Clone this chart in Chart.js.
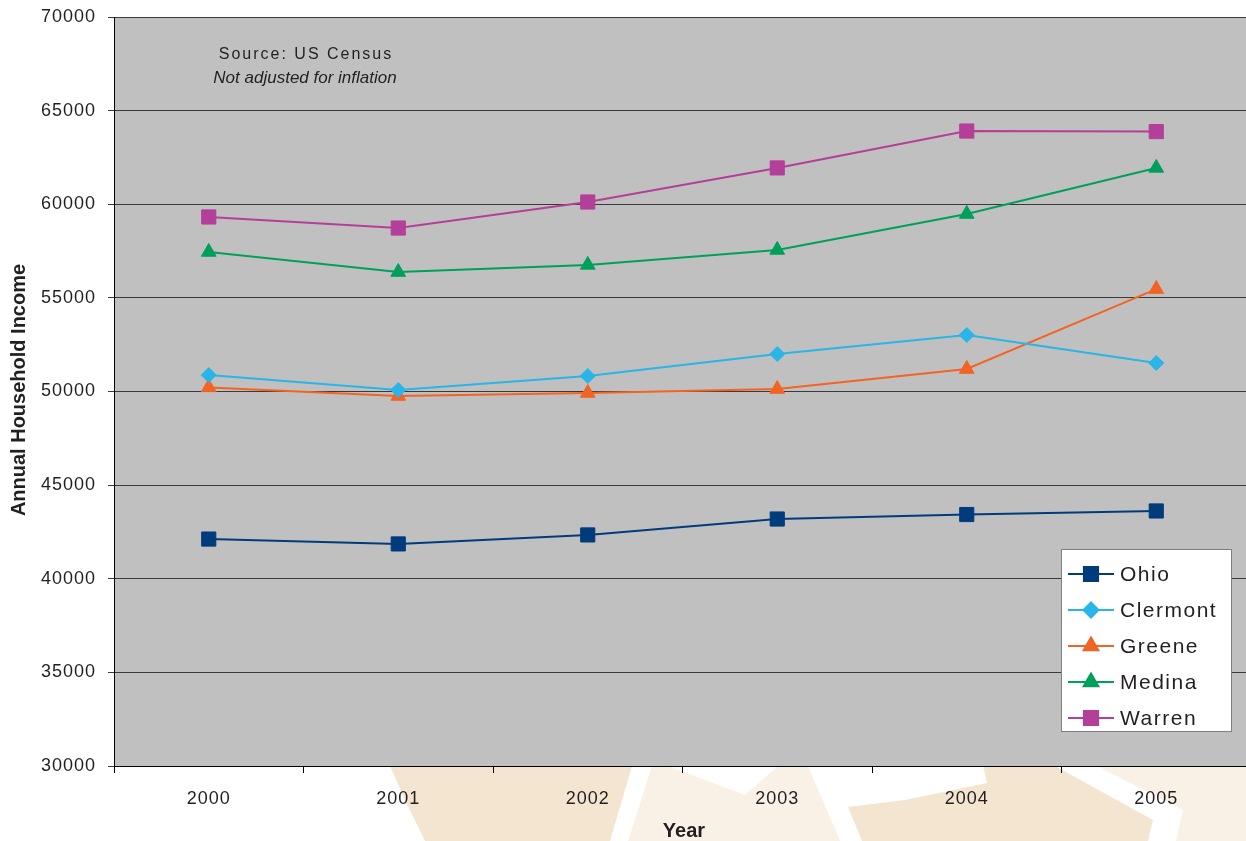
<!DOCTYPE html>
<html>
<head>
<meta charset="utf-8">
<script src="https://cdn.jsdelivr.net/npm/chart.js@4.4.0/dist/chart.umd.min.js"></script>
<style>
  html, body { margin: 0; padding: 0; background: #ffffff; overflow: hidden; }
  #wrap { width: 1262px; height: 841px; }
</style>
</head>
<body>
<div id="wrap"><canvas id="income" width="1262" height="841"></canvas></div>
<script>
// data
const years = ['2000', '2001', '2002', '2003', '2004', '2005'];
const ohio = [42120, 41860, 42340, 43190, 43430, 43620];
const clermont = [50880, 50080, 50830, 52000, 53020, 51520];
const greene = [50220, 49760, 49920, 50130, 51200, 55470];
const medina = [57450, 56380, 56760, 57560, 59480, 61940];
const warren = [59320, 58730, 60120, 61940, 63910, 63880];
const yMin = 30000, yMax = 70000, yStep = 5000;

const FONT = "'Liberation Sans', Arial, sans-serif";

const makeSet = (label, data, color, style, radius) => ({
    label: label,
    data: data,
    borderColor: color,
    backgroundColor: color,
    borderWidth: 2,
    pointStyle: style,
    pointRadius: radius,
    pointHoverRadius: radius,
    pointBorderWidth: 1,
    pointBackgroundColor: color,
    pointBorderColor: color,
    tension: 0
});

// beige logo pieces peeking out under the plot
const decoPlugin = {
    id: 'deco',
    beforeDraw(chart) {
        const ctx = chart.ctx;
        const shapes = [
            { c: '#f4e5d1', p: [[390, 766], [405, 800], [425, 841], [610, 841], [632, 766]] },
            { c: '#f9f0e6', p: [[652, 766], [668, 766], [705, 780], [745, 795], [778, 766], [808, 766], [840, 841], [628, 841]] },
            { c: '#f4e5d1', p: [[848, 807], [905, 800], [987, 783], [983, 766], [1055, 766], [1153, 820], [1148, 841], [862, 841]] },
            { c: '#f9f0e6', p: [[1097, 766], [1183, 810], [1176, 841], [1262, 841], [1262, 766]] }
        ];
        ctx.save();
        shapes.forEach(s => {
            ctx.fillStyle = s.c;
            ctx.beginPath();
            s.p.forEach((pt, i) => i ? ctx.lineTo(pt[0], pt[1]) : ctx.moveTo(pt[0], pt[1]));
            ctx.closePath();
            ctx.fill();
        });
        const a = chart.chartArea;
        ctx.fillStyle = '#c0c0c0';
        ctx.fillRect(a.left, a.top, a.right - a.left, a.bottom - a.top);
        ctx.restore();
    }
};

const spacingPlugin = {
    id: 'spacing',
    beforeUpdate(chart) { chart.ctx.letterSpacing = '1px'; },
    beforeDraw(chart) { chart.ctx.letterSpacing = '1px'; }
};

// titles, source note and the boxed legend
const overlayPlugin = {
    id: 'overlay',
    afterDraw(chart) {
        const ctx = chart.ctx;
        ctx.save();
        ctx.fillStyle = '#231f20';
        ctx.textAlign = 'center';
        ctx.textBaseline = 'middle';

        ctx.letterSpacing = '0px';
        ctx.font = 'bold 20px ' + FONT;
        ctx.fillText('Year', 684, 831);
        ctx.save();
        ctx.translate(19, 390);
        ctx.rotate(-Math.PI / 2);
        ctx.fillText('Annual Household Income', 0, 0);
        ctx.restore();

        ctx.letterSpacing = '2px';
        ctx.font = '16px ' + FONT;
        ctx.fillText('Source: US Census', 306, 55);
        ctx.letterSpacing = '0px';
        ctx.font = 'italic 17px ' + FONT;
        ctx.fillText('Not adjusted for inflation', 305, 78);

        // legend box
        ctx.fillStyle = '#ffffff';
        ctx.fillRect(1062, 549, 170, 182);
        ctx.strokeStyle = '#808080';
        ctx.lineWidth = 1;
        ctx.strokeRect(1061.5, 549.5, 170, 182);

        const rows = [574, 610, 646, 682, 718];
        chart.data.datasets.forEach((ds, i) => {
            const y = rows[i];
            ctx.strokeStyle = ds.borderColor;
            ctx.lineWidth = 2;
            ctx.beginPath();
            ctx.moveTo(1068, y);
            ctx.lineTo(1114, y);
            ctx.stroke();
            ctx.fillStyle = ds.backgroundColor;
            Chart.helpers.drawPoint(ctx, {
                pointStyle: ds.pointStyle,
                radius: ds.pointRadius,
                rotation: 0,
                borderWidth: 1
            }, 1091, y);
            ctx.fillStyle = '#231f20';
            ctx.textAlign = 'left';
            ctx.letterSpacing = '1.5px';
            ctx.font = '21px ' + FONT;
            ctx.fillText(ds.label, 1120, y + 1);
        });
        ctx.restore();
    }
};

new Chart(document.getElementById('income'), {
    type: 'line',
    data: {
        labels: years,
        datasets: [
            makeSet('Ohio', ohio, '#003b7c', 'rect', 10),
            makeSet('Clermont', clermont, '#29b5e8', 'rectRot', 7.5),
            makeSet('Greene', greene, '#f26424', 'triangle', 8.5),
            makeSet('Medina', medina, '#00a05b', 'triangle', 8.5),
            makeSet('Warren', warren, '#b43f98', 'rect', 10)
        ]
    },
    options: {
        responsive: false,
        animation: false,
        layout: { padding: { top: 17, right: 8, left: 0, bottom: 0 } },
        plugins: {
            legend: { display: false },
            tooltip: { enabled: false }
        },
        scales: {
            x: {
                offset: true,
                afterFit(s) { s.height = 75; s.paddingLeft = 0; s.paddingRight = 0; },
                border: { color: '#000000', width: 1 },
                grid: {
                    offset: true,
                    drawOnChartArea: false,
                    drawTicks: true,
                    tickLength: 7,
                    color: '#000000'
                },
                ticks: {
                    padding: 15,
                    color: '#231f20',
                    font: { family: FONT, size: 18 }
                }
            },
            y: {
                min: yMin,
                max: yMax,
                afterFit(s) { s.width = 114; s.paddingTop = 0; s.paddingBottom = 0; },
                border: { color: '#000000', width: 1 },
                grid: {
                    color: '#3a3a3a',
                    lineWidth: 1,
                    drawTicks: true,
                    tickLength: 6
                },
                ticks: {
                    stepSize: yStep,
                    padding: 12,
                    color: '#231f20',
                    font: { family: FONT, size: 18 },
                    callback: value => String(value)
                }
            }
        }
    },
    plugins: [decoPlugin, spacingPlugin, overlayPlugin]
});
</script>
</body>
</html>
